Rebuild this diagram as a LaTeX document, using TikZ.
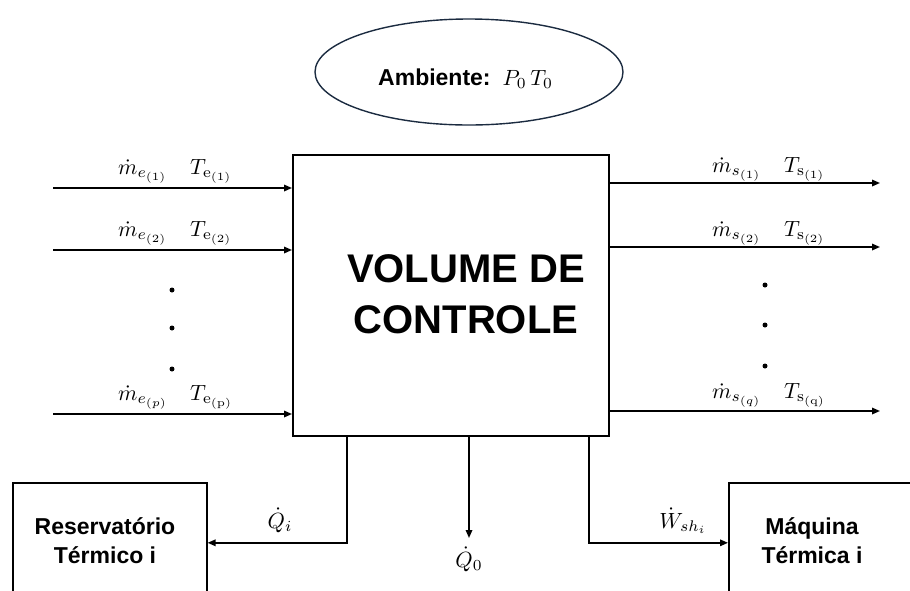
\documentclass[tikz,border=0pt]{standalone}
\usepackage{fontspec}
\newfontfamily\arial{Liberation Sans}
\usetikzlibrary{arrows.meta,shapes.geometric}
\definecolor{navy}{HTML}{1B2B40}
\newcommand{\mlab}[1]{\scalebox{2.2}{$#1$}}
\begin{document}
\begin{tikzpicture}[x=1pt,y=-1pt,
  ln/.style={line width=1.6pt,black},
  arr/.style={ln,-{Triangle[length=8pt,width=6.5pt]}},
  bx/.style={draw,line width=1.6pt,inner sep=0pt,anchor=north west},
  lbl/.style={font=\normalsize,anchor=base west,inner sep=0pt},
  bold/.style={font=\arial\bfseries\fontsize{23}{29}\selectfont,align=center,inner sep=0pt},
  dotn/.style={circle,fill=black,inner sep=0pt,minimum size=5pt}]
\useasboundingbox (0,0) rectangle (910,590);
\clip (0,0) rectangle (910,590);
% main control volume
\node[bx,minimum width=316pt,minimum height=281pt] (cv) at (292,154) {};
\node[font=\arial\bfseries\fontsize{40}{51}\selectfont,align=center,inner sep=0pt] (cvt) at (466,294) {VOLUME DE\\CONTROLE};
% ambient
\node[ellipse,draw=navy,line width=1.4pt,minimum width=308pt,minimum height=106pt,inner sep=0pt] (amb) at (469,72) {};
\node[font=\arial\bfseries\fontsize{23}{28}\selectfont,anchor=base west,inner sep=0pt] (ambt) at (378,85) {Ambiente:\hspace{12pt}{\normalsize\mlab{P_0\,T_0}}};
% inlet arrows
\coordinate (e1) at (53,188);
\coordinate (e2) at (53,250);
\coordinate (ep) at (53,414);
\draw[arr] (e1) -- (e1 -| cv.west);
\draw[arr] (e2) -- (e2 -| cv.west);
\draw[arr] (ep) -- (ep -| cv.west);
\node[lbl] (me1) at (118,174) {\mlab{\dot m_{e_{(1)}}}};
\node[lbl] (te1) at (190,174) {\mlab{T_{\mathrm{e}_{(1)}}}};
\node[lbl] (me2) at (118,236) {\mlab{\dot m_{e_{(2)}}}};
\node[lbl] (te2) at (190,236) {\mlab{T_{\mathrm{e}_{(2)}}}};
\node[lbl] (mep) at (118,400) {\mlab{\dot m_{e_{(p)}}}};
\node[lbl] (tep) at (190,400) {\mlab{T_{\mathrm{e}_{(\mathrm{p})}}}};
\node[dotn] (dl1) at (172,290) {};
\node[dotn] (dl2) at (172,328) {};
\node[dotn] (dl3) at (172,369) {};
% outlet arrows
\coordinate (s1) at (880,183);
\coordinate (s2) at (880,247);
\coordinate (sq) at (880,411);
\draw[arr] (s1 -| cv.east) -- (s1);
\draw[arr] (s2 -| cv.east) -- (s2);
\draw[arr] (sq -| cv.east) -- (sq);
\node[lbl] (ms1) at (712,172) {\mlab{\dot m_{s_{(1)}}}};
\node[lbl] (ts1) at (784,172) {\mlab{T_{\mathrm{s}_{(1)}}}};
\node[lbl] (ms2) at (712,236) {\mlab{\dot m_{s_{(2)}}}};
\node[lbl] (ts2) at (784,236) {\mlab{T_{\mathrm{s}_{(2)}}}};
\node[lbl] (msq) at (712,398) {\mlab{\dot m_{s_{(q)}}}};
\node[lbl] (tsq) at (784,398) {\mlab{T_{\mathrm{s}_{(\mathrm{q})}}}};
\node[dotn] (dr1) at (765,285) {};
\node[dotn] (dr2) at (765,325) {};
\node[dotn] (dr3) at (765,366) {};
% bottom boxes
\node[bx,minimum width=194pt,minimum height=120pt] (res) at (12,482) {};
\node[bold] (rest) at (105,541) {Reservatório\\Térmico i};
\node[bx,minimum width=200pt,minimum height=120pt] (maq) at (728,482) {};
\node[bold] (maqt) at (812,541) {Máquina\\Térmica i};
% bottom connectors
\coordinate (xqi) at (347,0);
\coordinate (xw) at (589,0);
\coordinate (q0e) at (469,538);
\draw[arr] (cv.south -| xqi) |- (res.east);
\draw[arr] (cv.south -| xw) |- (maq.west);
\draw[arr] (cv.south -| q0e) -- (q0e);
\node[lbl,anchor=base] (qi) at (280,528) {\mlab{\dot Q_i}};
\node[lbl,anchor=base] (wsh) at (683,528) {\mlab{\dot W_{sh_i}}};
\node[lbl,anchor=base] (q0) at (469,567) {\mlab{\dot Q_0}};
\end{tikzpicture}
\end{document}
